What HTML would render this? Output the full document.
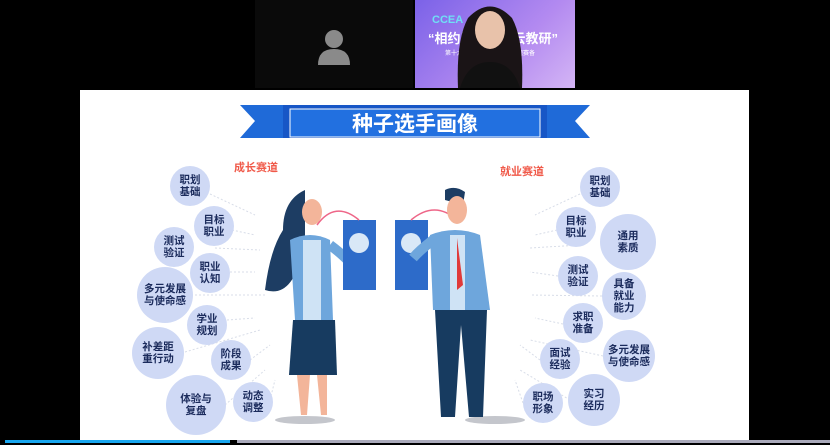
<!DOCTYPE html>
<html><head><meta charset="utf-8"><style>
body{margin:0;width:830px;height:445px;background:#000;position:relative;overflow:hidden;font-family:"Liberation Sans","Noto Sans CJK SC",sans-serif}
.a{position:absolute}
.b{position:absolute;border-radius:50%;background:#cfd9f5;color:#1b2b5c;font-weight:bold;font-size:10.5px;line-height:12px;display:flex;align-items:center;justify-content:center;text-align:center}
</style></head><body>
<div class="a" style="left:255px;top:0;width:158px;height:88px;background:#0a0a0a"></div>
<svg class="a" style="left:315px;top:28px" width="38" height="38"><circle cx="19" cy="11" r="9" fill="#8a8a8a"/><path d="M3 37 Q3 21 19 21 Q35 21 35 37Z" fill="#8a8a8a"/></svg>
<div class="a" style="left:415px;top:0;width:160px;height:88px;background:linear-gradient(135deg,#7b62e8,#b38af0 60%,#d4b5f5)"></div>
<div class="a" style="left:432px;top:14px;color:#6fe0f5;font-weight:bold;font-size:11px">CCEA</div>
<div class="a" style="left:428px;top:28px;color:#fff;font-weight:bold;font-size:13px">“相约周　　　云教研”</div>
<div class="a" style="left:445px;top:48px;color:#fff;font-size:6px">第十六期　　　　　　　　观赛备</div>
<svg class="a" style="left:440px;top:0" width="100" height="88"><path d="M18 88 Q16 40 28 18 Q50 -5 72 18 Q84 40 82 88Z" fill="#1a1416"/><ellipse cx="50" cy="30" rx="15" ry="19" fill="#e8c2aa"/><path d="M20 88 Q28 62 50 62 Q72 62 80 88Z" fill="#111"/></svg>
<div class="a" style="left:80px;top:90px;width:669px;height:350px;background:#fff"></div>
<div class="a" style="left:5px;top:440px;width:225px;height:3px;background:#18a6ef"></div>
<div class="a" style="left:237px;top:440px;width:593px;height:3px;background:#aab"></div>
<svg class="a" style="left:80px;top:90px" width="669" height="350">
<g stroke="#d8dde8" stroke-width="1" stroke-dasharray="2,2" fill="none">
<path d="M130 104 L175 125 M152 140 L175 145 M135 158 L180 160 M150 182 L175 182 M115 205 L185 205 M147 230 L175 228 M105 262 L180 240 M170 270 L190 255 M145 315 L185 280 M190 310 L195 290"/>
<path d="M500 104 L455 125 M477 140 L455 145 M500 155 L450 158 M478 186 L450 182 M522 206 L450 205 M483 234 L455 228 M523 266 L450 250 M460 270 L440 255 M490 310 L440 280 M443 313 L435 290"/>
</g></svg>
<svg class="a" style="left:240px;top:100px" width="350" height="50">
<path d="M0 5 H60 V38 H0 L15 21Z" fill="#1f6ad8"/><path d="M350 5 H290 V38 H350 L335 21Z" fill="#1f6ad8"/>
<rect x="43" y="5" width="264" height="33" fill="#1756c6"/><rect x="50" y="9" width="250" height="28" fill="#2270e0" stroke="#fff" stroke-width="1"/>
<text x="175" y="31" fill="#fff" font-size="21" font-weight="bold" text-anchor="middle" font-family="Liberation Sans,Noto Sans CJK SC,sans-serif">种子选手画像</text></svg>
<div class="a" style="left:234px;top:159px;color:#f05a4a;font-weight:bold;font-size:11px">成长赛道</div>
<div class="a" style="left:500px;top:163px;color:#f05a4a;font-weight:bold;font-size:11px">就业赛道</div>
<svg class="a" style="left:255px;top:180px" width="280" height="245">
<ellipse cx="50" cy="240" rx="30" ry="4" fill="#c4c6cc"/><ellipse cx="240" cy="240" rx="30" ry="4" fill="#c4c6cc"/>
<path d="M50 10 Q28 20 28 50 Q15 70 10 110 Q40 120 50 60Z" fill="#1d3d63"/>
<ellipse cx="57" cy="32" rx="10" ry="13" fill="#f3b59a"/>
<path d="M35 60 Q55 50 75 60 L78 140 L40 140Z" fill="#6ea6dc"/>
<rect x="48" y="60" width="18" height="80" fill="#cfe3f5"/>
<path d="M75 65 Q95 80 100 90" stroke="#6ea6dc" stroke-width="10" fill="none"/>
<path d="M38 140 H80 L82 195 H34Z" fill="#173b60"/>
<path d="M42 195 L46 235 H52 L55 195Z M62 195 L66 235 H72 L72 195Z" fill="#f3b59a"/>
<rect x="88" y="40" width="33" height="70" fill="#2d6bc9"/><circle cx="104" cy="63" r="10" fill="#d9e8f7"/>
<rect x="140" y="40" width="33" height="70" fill="#2d6bc9"/><circle cx="156" cy="63" r="10" fill="#d9e8f7"/>
<path d="M62 45 Q80 20 104 40 M202 40 Q180 20 156 40" stroke="#e68" stroke-width="1.5" fill="none"/>
<path d="M190 10 Q200 5 210 12 L208 25 L190 20Z" fill="#1d3d63"/>
<ellipse cx="202" cy="30" rx="10" ry="14" fill="#f3b59a"/>
<path d="M175 55 Q200 45 225 55 L235 130 L178 130Z" fill="#6ea6dc"/>
<rect x="195" y="55" width="15" height="75" fill="#cfe3f5"/>
<path d="M202 58 L208 105 L202 110Z" fill="#e03a3a"/>
<path d="M178 60 Q165 70 158 78" stroke="#6ea6dc" stroke-width="10" fill="none"/>
<path d="M180 130 H232 L228 237 H214 L206 145 L200 237 H186Z" fill="#173b60"/>
</svg>
<div class="b" style="left:170px;top:166px;width:40px;height:40px">职划<br>基础</div>
<div class="b" style="left:194px;top:206px;width:40px;height:40px">目标<br>职业</div>
<div class="b" style="left:154px;top:227px;width:40px;height:40px">测试<br>验证</div>
<div class="b" style="left:190px;top:253px;width:40px;height:40px">职业<br>认知</div>
<div class="b" style="left:137px;top:267px;width:56px;height:56px">多元发展<br>与使命感</div>
<div class="b" style="left:187px;top:305px;width:40px;height:40px">学业<br>规划</div>
<div class="b" style="left:132px;top:327px;width:52px;height:52px">补差距<br>重行动</div>
<div class="b" style="left:211px;top:340px;width:40px;height:40px">阶段<br>成果</div>
<div class="b" style="left:166px;top:375px;width:60px;height:60px">体验与<br>复盘</div>
<div class="b" style="left:233px;top:382px;width:40px;height:40px">动态<br>调整</div>
<div class="b" style="left:580px;top:167px;width:40px;height:40px">职划<br>基础</div>
<div class="b" style="left:556px;top:207px;width:40px;height:40px">目标<br>职业</div>
<div class="b" style="left:600px;top:214px;width:56px;height:56px">通用<br>素质</div>
<div class="b" style="left:558px;top:256px;width:40px;height:40px">测试<br>验证</div>
<div class="b" style="left:602px;top:272px;width:44px;height:48px">具备<br>就业<br>能力</div>
<div class="b" style="left:563px;top:303px;width:40px;height:40px">求职<br>准备</div>
<div class="b" style="left:603px;top:330px;width:52px;height:52px">多元发展<br>与使命感</div>
<div class="b" style="left:540px;top:339px;width:40px;height:40px">面试<br>经验</div>
<div class="b" style="left:568px;top:374px;width:52px;height:52px">实习<br>经历</div>
<div class="b" style="left:523px;top:383px;width:40px;height:40px">职场<br>形象</div>
</body></html>
